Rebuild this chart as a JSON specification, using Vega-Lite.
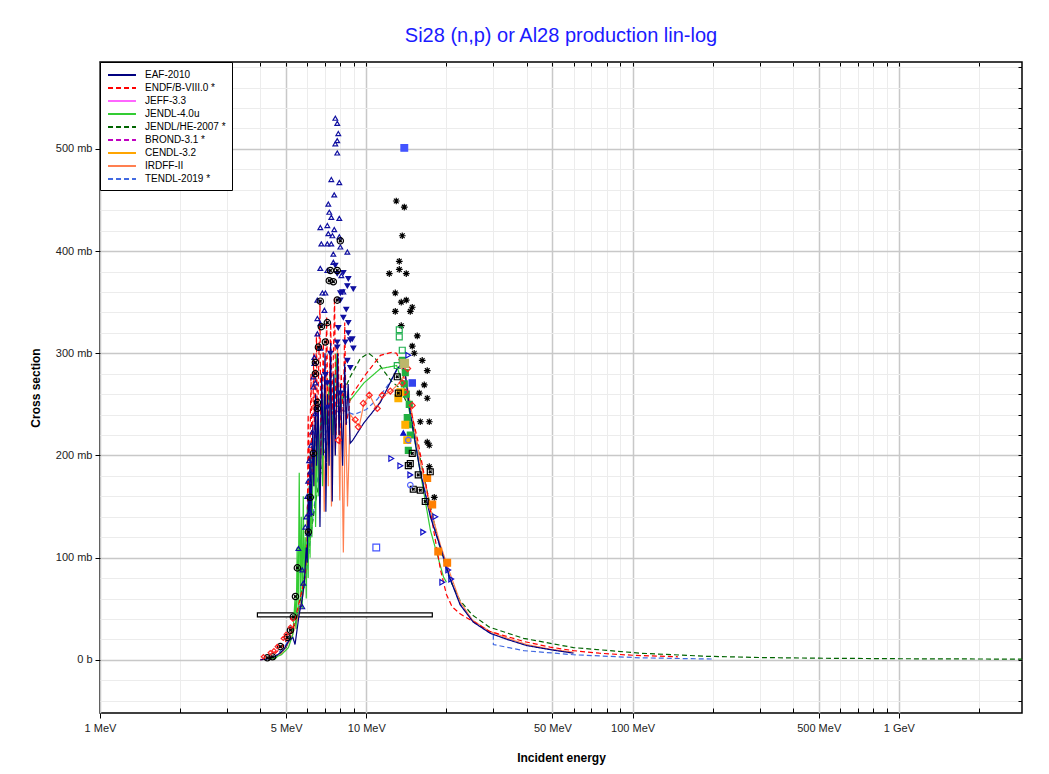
{
  "$schema": "https://vega.github.io/schema/vega-lite/v6.json",
  "width": 922,
  "height": 651,
  "autosize": {"type": "none"},
  "padding": {"left": 100, "top": 62, "right": 27, "bottom": 61},
  "background": "white",
  "title": {"text": "Si28 (n,p) or Al28 production lin-log", "fontSize": 20, "fontWeight": "normal", "color": "#1a1aff", "offset": 15, "anchor": "middle", "font": "Liberation Sans"},
  "config": {
    "font": "Liberation Sans",
    "view": {"stroke": "#000000", "strokeWidth": 1.5},
    "axis": {"labelFont": "Liberation Sans", "titleFont": "Liberation Sans", "tickColor": "#000000", "domain": false}
  },
  "resolve": {"axis": {"x": "independent", "y": "independent"}},
  "datasets": {
    "box": [{"e": 3.9, "e2": 17.7, "lo": 42, "hi": 46}],
    "curves": [
      {"lib": "TENDL-2019 *", "e": 4.5, "xs": 2}, {"lib": "TENDL-2019 *", "e": 5, "xs": 15}, {"lib": "TENDL-2019 *", "e": 5.5, "xs": 40}, {"lib": "TENDL-2019 *", "e": 6, "xs": 90}, {"lib": "TENDL-2019 *", "e": 6.5, "xs": 170}, {"lib": "TENDL-2019 *", "e": 7, "xs": 220}, {"lib": "TENDL-2019 *", "e": 7.5, "xs": 240}, {"lib": "TENDL-2019 *", "e": 8, "xs": 245}, {"lib": "TENDL-2019 *", "e": 9, "xs": 240}, {"lib": "TENDL-2019 *", "e": 10, "xs": 245}, {"lib": "TENDL-2019 *", "e": 11, "xs": 255}, {"lib": "TENDL-2019 *", "e": 12, "xs": 268}, {"lib": "TENDL-2019 *", "e": 13, "xs": 283}, {"lib": "TENDL-2019 *", "e": 13.6, "xs": 288}, {"lib": "TENDL-2019 *", "e": 14, "xs": 280}, {"lib": "TENDL-2019 *", "e": 14.6, "xs": 245}, {"lib": "TENDL-2019 *", "e": 15.9, "xs": 188}, {"lib": "TENDL-2019 *", "e": 17.4, "xs": 142}, {"lib": "TENDL-2019 *", "e": 19, "xs": 108}, {"lib": "TENDL-2019 *", "e": 20.6, "xs": 80}, {"lib": "TENDL-2019 *", "e": 22.5, "xs": 55}, {"lib": "TENDL-2019 *", "e": 25, "xs": 39}, {"lib": "TENDL-2019 *", "e": 29, "xs": 27}, {"lib": "TENDL-2019 *", "e": 30, "xs": 25}, {"lib": "TENDL-2019 *", "e": 30.01, "xs": 15}, {"lib": "TENDL-2019 *", "e": 39, "xs": 9}, {"lib": "TENDL-2019 *", "e": 60, "xs": 5}, {"lib": "TENDL-2019 *", "e": 107, "xs": 2}, {"lib": "TENDL-2019 *", "e": 200, "xs": 0.8},
      {"lib": "JENDL/HE-2007 *", "e": 4.5, "xs": 0}, {"lib": "JENDL/HE-2007 *", "e": 5, "xs": 12}, {"lib": "JENDL/HE-2007 *", "e": 5.5, "xs": 40}, {"lib": "JENDL/HE-2007 *", "e": 6, "xs": 100}, {"lib": "JENDL/HE-2007 *", "e": 6.5, "xs": 160}, {"lib": "JENDL/HE-2007 *", "e": 7, "xs": 205}, {"lib": "JENDL/HE-2007 *", "e": 7.5, "xs": 235}, {"lib": "JENDL/HE-2007 *", "e": 8, "xs": 255}, {"lib": "JENDL/HE-2007 *", "e": 8.7, "xs": 277}, {"lib": "JENDL/HE-2007 *", "e": 9.5, "xs": 295}, {"lib": "JENDL/HE-2007 *", "e": 10.2, "xs": 300}, {"lib": "JENDL/HE-2007 *", "e": 10.8, "xs": 295}, {"lib": "JENDL/HE-2007 *", "e": 11.6, "xs": 283}, {"lib": "JENDL/HE-2007 *", "e": 12.5, "xs": 272}, {"lib": "JENDL/HE-2007 *", "e": 13.5, "xs": 265}, {"lib": "JENDL/HE-2007 *", "e": 14.5, "xs": 245}, {"lib": "JENDL/HE-2007 *", "e": 15.5, "xs": 212}, {"lib": "JENDL/HE-2007 *", "e": 16.5, "xs": 178}, {"lib": "JENDL/HE-2007 *", "e": 17.5, "xs": 148}, {"lib": "JENDL/HE-2007 *", "e": 18.5, "xs": 120}, {"lib": "JENDL/HE-2007 *", "e": 19.5, "xs": 98}, {"lib": "JENDL/HE-2007 *", "e": 20.5, "xs": 80}, {"lib": "JENDL/HE-2007 *", "e": 22.5, "xs": 58}, {"lib": "JENDL/HE-2007 *", "e": 25, "xs": 44}, {"lib": "JENDL/HE-2007 *", "e": 29, "xs": 32}, {"lib": "JENDL/HE-2007 *", "e": 39, "xs": 21}, {"lib": "JENDL/HE-2007 *", "e": 60, "xs": 12}, {"lib": "JENDL/HE-2007 *", "e": 107, "xs": 6.5}, {"lib": "JENDL/HE-2007 *", "e": 190, "xs": 3.5}, {"lib": "JENDL/HE-2007 *", "e": 300, "xs": 2.3}, {"lib": "JENDL/HE-2007 *", "e": 500, "xs": 1.6}, {"lib": "JENDL/HE-2007 *", "e": 1000, "xs": 1.1}, {"lib": "JENDL/HE-2007 *", "e": 2900, "xs": 0.7},
      {"lib": "IRDFF-II", "e": 4.3, "xs": 0}, {"lib": "IRDFF-II", "e": 4.8, "xs": 6}, {"lib": "IRDFF-II", "e": 5.2, "xs": 20}, {"lib": "IRDFF-II", "e": 5.5, "xs": 38}, {"lib": "IRDFF-II", "e": 5.8, "xs": 65}, {"lib": "IRDFF-II", "e": 6.0, "xs": 110}, {"lib": "IRDFF-II", "e": 6.1, "xs": 160}, {"lib": "IRDFF-II", "e": 6.2, "xs": 130}, {"lib": "IRDFF-II", "e": 6.3, "xs": 210}, {"lib": "IRDFF-II", "e": 6.4, "xs": 170}, {"lib": "IRDFF-II", "e": 6.6, "xs": 250}, {"lib": "IRDFF-II", "e": 6.7, "xs": 160}, {"lib": "IRDFF-II", "e": 6.85, "xs": 260}, {"lib": "IRDFF-II", "e": 6.95, "xs": 145}, {"lib": "IRDFF-II", "e": 7.1, "xs": 280}, {"lib": "IRDFF-II", "e": 7.2, "xs": 170}, {"lib": "IRDFF-II", "e": 7.3, "xs": 300}, {"lib": "IRDFF-II", "e": 7.4, "xs": 150}, {"lib": "IRDFF-II", "e": 7.55, "xs": 270}, {"lib": "IRDFF-II", "e": 7.65, "xs": 200}, {"lib": "IRDFF-II", "e": 7.8, "xs": 310}, {"lib": "IRDFF-II", "e": 7.95, "xs": 156}, {"lib": "IRDFF-II", "e": 8.05, "xs": 260}, {"lib": "IRDFF-II", "e": 8.2, "xs": 105}, {"lib": "IRDFF-II", "e": 8.35, "xs": 250}, {"lib": "IRDFF-II", "e": 8.5, "xs": 150}, {"lib": "IRDFF-II", "e": 8.7, "xs": 240}, {"lib": "IRDFF-II", "e": 9.0, "xs": 235}, {"lib": "IRDFF-II", "e": 9.4, "xs": 228}, {"lib": "IRDFF-II", "e": 9.8, "xs": 251}, {"lib": "IRDFF-II", "e": 10.3, "xs": 259}, {"lib": "IRDFF-II", "e": 10.9, "xs": 246}, {"lib": "IRDFF-II", "e": 11.6, "xs": 259}, {"lib": "IRDFF-II", "e": 12.4, "xs": 263}, {"lib": "IRDFF-II", "e": 13.2, "xs": 270}, {"lib": "IRDFF-II", "e": 14, "xs": 280}, {"lib": "IRDFF-II", "e": 14.6, "xs": 252}, {"lib": "IRDFF-II", "e": 15.9, "xs": 195}, {"lib": "IRDFF-II", "e": 17.4, "xs": 148}, {"lib": "IRDFF-II", "e": 19, "xs": 112}, {"lib": "IRDFF-II", "e": 20.6, "xs": 85}, {"lib": "IRDFF-II", "e": 22.5, "xs": 57}, {"lib": "IRDFF-II", "e": 25, "xs": 39}, {"lib": "IRDFF-II", "e": 29, "xs": 28}, {"lib": "IRDFF-II", "e": 34, "xs": 21}, {"lib": "IRDFF-II", "e": 40, "xs": 15}, {"lib": "IRDFF-II", "e": 49, "xs": 10.5}, {"lib": "IRDFF-II", "e": 60, "xs": 7.5},
      {"lib": "JENDL-4.0u", "e": 4.3, "xs": 0}, {"lib": "JENDL-4.0u", "e": 4.8, "xs": 5}, {"lib": "JENDL-4.0u", "e": 5.1, "xs": 12}, {"lib": "JENDL-4.0u", "e": 5.3, "xs": 25}, {"lib": "JENDL-4.0u", "e": 5.4, "xs": 60}, {"lib": "JENDL-4.0u", "e": 5.45, "xs": 30}, {"lib": "JENDL-4.0u", "e": 5.5, "xs": 110}, {"lib": "JENDL-4.0u", "e": 5.55, "xs": 45}, {"lib": "JENDL-4.0u", "e": 5.6, "xs": 183}, {"lib": "JENDL-4.0u", "e": 5.65, "xs": 60}, {"lib": "JENDL-4.0u", "e": 5.7, "xs": 140}, {"lib": "JENDL-4.0u", "e": 5.75, "xs": 50}, {"lib": "JENDL-4.0u", "e": 5.8, "xs": 160}, {"lib": "JENDL-4.0u", "e": 5.85, "xs": 70}, {"lib": "JENDL-4.0u", "e": 5.9, "xs": 120}, {"lib": "JENDL-4.0u", "e": 5.95, "xs": 60}, {"lib": "JENDL-4.0u", "e": 6.0, "xs": 150}, {"lib": "JENDL-4.0u", "e": 6.05, "xs": 80}, {"lib": "JENDL-4.0u", "e": 6.1, "xs": 170}, {"lib": "JENDL-4.0u", "e": 6.15, "xs": 100}, {"lib": "JENDL-4.0u", "e": 6.2, "xs": 200}, {"lib": "JENDL-4.0u", "e": 6.25, "xs": 120}, {"lib": "JENDL-4.0u", "e": 6.3, "xs": 180}, {"lib": "JENDL-4.0u", "e": 6.4, "xs": 220}, {"lib": "JENDL-4.0u", "e": 6.45, "xs": 130}, {"lib": "JENDL-4.0u", "e": 6.55, "xs": 240}, {"lib": "JENDL-4.0u", "e": 6.6, "xs": 160}, {"lib": "JENDL-4.0u", "e": 6.7, "xs": 220}, {"lib": "JENDL-4.0u", "e": 6.8, "xs": 250}, {"lib": "JENDL-4.0u", "e": 6.85, "xs": 170}, {"lib": "JENDL-4.0u", "e": 6.95, "xs": 260}, {"lib": "JENDL-4.0u", "e": 7.1, "xs": 230}, {"lib": "JENDL-4.0u", "e": 7.3, "xs": 280}, {"lib": "JENDL-4.0u", "e": 7.5, "xs": 220}, {"lib": "JENDL-4.0u", "e": 7.7, "xs": 300}, {"lib": "JENDL-4.0u", "e": 7.9, "xs": 240}, {"lib": "JENDL-4.0u", "e": 8.2, "xs": 260}, {"lib": "JENDL-4.0u", "e": 8.7, "xs": 254}, {"lib": "JENDL-4.0u", "e": 9.8, "xs": 271}, {"lib": "JENDL-4.0u", "e": 11.3, "xs": 285}, {"lib": "JENDL-4.0u", "e": 13, "xs": 288}, {"lib": "JENDL-4.0u", "e": 14.2, "xs": 257}, {"lib": "JENDL-4.0u", "e": 15.6, "xs": 198}, {"lib": "JENDL-4.0u", "e": 17.4, "xs": 127}, {"lib": "JENDL-4.0u", "e": 19.5, "xs": 81}, {"lib": "JENDL-4.0u", "e": 20, "xs": 76},
      {"lib": "ENDF/B-VIII.0 *", "e": 4.0, "xs": 0}, {"lib": "ENDF/B-VIII.0 *", "e": 4.4, "xs": 3}, {"lib": "ENDF/B-VIII.0 *", "e": 4.8, "xs": 12}, {"lib": "ENDF/B-VIII.0 *", "e": 5.1, "xs": 22}, {"lib": "ENDF/B-VIII.0 *", "e": 5.3, "xs": 30}, {"lib": "ENDF/B-VIII.0 *", "e": 5.5, "xs": 48}, {"lib": "ENDF/B-VIII.0 *", "e": 5.7, "xs": 65}, {"lib": "ENDF/B-VIII.0 *", "e": 5.9, "xs": 82}, {"lib": "ENDF/B-VIII.0 *", "e": 6.0, "xs": 120}, {"lib": "ENDF/B-VIII.0 *", "e": 6.05, "xs": 240}, {"lib": "ENDF/B-VIII.0 *", "e": 6.1, "xs": 150}, {"lib": "ENDF/B-VIII.0 *", "e": 6.2, "xs": 280}, {"lib": "ENDF/B-VIII.0 *", "e": 6.25, "xs": 180}, {"lib": "ENDF/B-VIII.0 *", "e": 6.35, "xs": 300}, {"lib": "ENDF/B-VIII.0 *", "e": 6.4, "xs": 200}, {"lib": "ENDF/B-VIII.0 *", "e": 6.5, "xs": 320}, {"lib": "ENDF/B-VIII.0 *", "e": 6.55, "xs": 220}, {"lib": "ENDF/B-VIII.0 *", "e": 6.7, "xs": 350}, {"lib": "ENDF/B-VIII.0 *", "e": 6.75, "xs": 200}, {"lib": "ENDF/B-VIII.0 *", "e": 6.9, "xs": 310}, {"lib": "ENDF/B-VIII.0 *", "e": 7.0, "xs": 230}, {"lib": "ENDF/B-VIII.0 *", "e": 7.1, "xs": 335}, {"lib": "ENDF/B-VIII.0 *", "e": 7.2, "xs": 210}, {"lib": "ENDF/B-VIII.0 *", "e": 7.35, "xs": 330}, {"lib": "ENDF/B-VIII.0 *", "e": 7.45, "xs": 240}, {"lib": "ENDF/B-VIII.0 *", "e": 7.6, "xs": 355}, {"lib": "ENDF/B-VIII.0 *", "e": 7.7, "xs": 220}, {"lib": "ENDF/B-VIII.0 *", "e": 7.85, "xs": 300}, {"lib": "ENDF/B-VIII.0 *", "e": 7.95, "xs": 210}, {"lib": "ENDF/B-VIII.0 *", "e": 8.05, "xs": 280}, {"lib": "ENDF/B-VIII.0 *", "e": 8.2, "xs": 240}, {"lib": "ENDF/B-VIII.0 *", "e": 8.3, "xs": 330}, {"lib": "ENDF/B-VIII.0 *", "e": 8.4, "xs": 230}, {"lib": "ENDF/B-VIII.0 *", "e": 8.6, "xs": 245}, {"lib": "ENDF/B-VIII.0 *", "e": 8.7, "xs": 257}, {"lib": "ENDF/B-VIII.0 *", "e": 9.8, "xs": 277}, {"lib": "ENDF/B-VIII.0 *", "e": 11.3, "xs": 298}, {"lib": "ENDF/B-VIII.0 *", "e": 12.5, "xs": 301}, {"lib": "ENDF/B-VIII.0 *", "e": 13, "xs": 300}, {"lib": "ENDF/B-VIII.0 *", "e": 13.6, "xs": 287}, {"lib": "ENDF/B-VIII.0 *", "e": 14.2, "xs": 261}, {"lib": "ENDF/B-VIII.0 *", "e": 15.6, "xs": 215}, {"lib": "ENDF/B-VIII.0 *", "e": 16.9, "xs": 166}, {"lib": "ENDF/B-VIII.0 *", "e": 17.9, "xs": 127}, {"lib": "ENDF/B-VIII.0 *", "e": 19, "xs": 88}, {"lib": "ENDF/B-VIII.0 *", "e": 20, "xs": 64}, {"lib": "ENDF/B-VIII.0 *", "e": 21, "xs": 52}, {"lib": "ENDF/B-VIII.0 *", "e": 22.5, "xs": 45}, {"lib": "ENDF/B-VIII.0 *", "e": 25, "xs": 38}, {"lib": "ENDF/B-VIII.0 *", "e": 29, "xs": 28}, {"lib": "ENDF/B-VIII.0 *", "e": 39, "xs": 18}, {"lib": "ENDF/B-VIII.0 *", "e": 49, "xs": 12.5}, {"lib": "ENDF/B-VIII.0 *", "e": 60, "xs": 9}, {"lib": "ENDF/B-VIII.0 *", "e": 75, "xs": 6.5}, {"lib": "ENDF/B-VIII.0 *", "e": 100, "xs": 4.5}, {"lib": "ENDF/B-VIII.0 *", "e": 148, "xs": 3},
      {"lib": "EAF-2010", "e": 4.0, "xs": 0}, {"lib": "EAF-2010", "e": 4.3, "xs": 1}, {"lib": "EAF-2010", "e": 4.6, "xs": 4}, {"lib": "EAF-2010", "e": 4.9, "xs": 10}, {"lib": "EAF-2010", "e": 5.1, "xs": 18}, {"lib": "EAF-2010", "e": 5.3, "xs": 22}, {"lib": "EAF-2010", "e": 5.4, "xs": 15}, {"lib": "EAF-2010", "e": 5.5, "xs": 30}, {"lib": "EAF-2010", "e": 5.6, "xs": 45}, {"lib": "EAF-2010", "e": 5.75, "xs": 60}, {"lib": "EAF-2010", "e": 5.85, "xs": 75}, {"lib": "EAF-2010", "e": 5.95, "xs": 110}, {"lib": "EAF-2010", "e": 6.0, "xs": 95}, {"lib": "EAF-2010", "e": 6.05, "xs": 160}, {"lib": "EAF-2010", "e": 6.1, "xs": 120}, {"lib": "EAF-2010", "e": 6.15, "xs": 200}, {"lib": "EAF-2010", "e": 6.2, "xs": 140}, {"lib": "EAF-2010", "e": 6.3, "xs": 230}, {"lib": "EAF-2010", "e": 6.35, "xs": 170}, {"lib": "EAF-2010", "e": 6.45, "xs": 260}, {"lib": "EAF-2010", "e": 6.5, "xs": 190}, {"lib": "EAF-2010", "e": 6.6, "xs": 250}, {"lib": "EAF-2010", "e": 6.7, "xs": 130}, {"lib": "EAF-2010", "e": 6.8, "xs": 280}, {"lib": "EAF-2010", "e": 6.9, "xs": 200}, {"lib": "EAF-2010", "e": 7.0, "xs": 300}, {"lib": "EAF-2010", "e": 7.05, "xs": 145}, {"lib": "EAF-2010", "e": 7.15, "xs": 260}, {"lib": "EAF-2010", "e": 7.25, "xs": 190}, {"lib": "EAF-2010", "e": 7.35, "xs": 310}, {"lib": "EAF-2010", "e": 7.45, "xs": 155}, {"lib": "EAF-2010", "e": 7.55, "xs": 280}, {"lib": "EAF-2010", "e": 7.65, "xs": 200}, {"lib": "EAF-2010", "e": 7.8, "xs": 300}, {"lib": "EAF-2010", "e": 7.9, "xs": 220}, {"lib": "EAF-2010", "e": 8.0, "xs": 270}, {"lib": "EAF-2010", "e": 8.15, "xs": 190}, {"lib": "EAF-2010", "e": 8.3, "xs": 290}, {"lib": "EAF-2010", "e": 8.4, "xs": 230}, {"lib": "EAF-2010", "e": 8.55, "xs": 270}, {"lib": "EAF-2010", "e": 8.7, "xs": 212}, {"lib": "EAF-2010", "e": 8.9, "xs": 215}, {"lib": "EAF-2010", "e": 9.8, "xs": 232}, {"lib": "EAF-2010", "e": 11.3, "xs": 252}, {"lib": "EAF-2010", "e": 13, "xs": 284}, {"lib": "EAF-2010", "e": 13.6, "xs": 290}, {"lib": "EAF-2010", "e": 14, "xs": 280}, {"lib": "EAF-2010", "e": 14.6, "xs": 242}, {"lib": "EAF-2010", "e": 15.9, "xs": 186}, {"lib": "EAF-2010", "e": 17.4, "xs": 140}, {"lib": "EAF-2010", "e": 19, "xs": 110}, {"lib": "EAF-2010", "e": 20.6, "xs": 80}, {"lib": "EAF-2010", "e": 22.5, "xs": 54}, {"lib": "EAF-2010", "e": 25.2, "xs": 37}, {"lib": "EAF-2010", "e": 29.2, "xs": 26}, {"lib": "EAF-2010", "e": 33.8, "xs": 20}, {"lib": "EAF-2010", "e": 40, "xs": 14}, {"lib": "EAF-2010", "e": 49, "xs": 10}, {"lib": "EAF-2010", "e": 60, "xs": 6.5}
    ],
    "exp": [
      {"set": "tu", "e": 7.65, "xs": 530}, {"set": "tu", "e": 7.78, "xs": 525}, {"set": "tu", "e": 7.85, "xs": 515}, {"set": "tu", "e": 7.78, "xs": 508}, {"set": "tu", "e": 7.65, "xs": 505}, {"set": "tu", "e": 7.78, "xs": 496}, {"set": "tu", "e": 7.39, "xs": 470}, {"set": "tu", "e": 7.92, "xs": 467}, {"set": "tu", "e": 7.58, "xs": 455}, {"set": "tu", "e": 7.2, "xs": 446}, {"set": "tu", "e": 7.26, "xs": 438}, {"set": "tu", "e": 7.39, "xs": 433}, {"set": "tu", "e": 7.92, "xs": 432}, {"set": "tu", "e": 6.72, "xs": 423}, {"set": "tu", "e": 7.14, "xs": 425}, {"set": "tu", "e": 7.58, "xs": 421}, {"set": "tu", "e": 7.2, "xs": 417}, {"set": "tu", "e": 7.46, "xs": 415}, {"set": "tu", "e": 7.92, "xs": 414}, {"set": "tu", "e": 6.78, "xs": 407}, {"set": "tu", "e": 7.14, "xs": 407}, {"set": "tu", "e": 7.39, "xs": 407}, {"set": "tu", "e": 7.99, "xs": 404}, {"set": "tu", "e": 7.52, "xs": 397}, {"set": "tu", "e": 8.49, "xs": 399}, {"set": "tu", "e": 7.52, "xs": 389}, {"set": "tu", "e": 6.72, "xs": 383}, {"set": "tu", "e": 7.14, "xs": 381}, {"set": "tu", "e": 8.06, "xs": 376}, {"set": "tu", "e": 6.84, "xs": 359}, {"set": "tu", "e": 7.02, "xs": 359}, {"set": "tu", "e": 8.2, "xs": 360}, {"set": "tu", "e": 6.55, "xs": 352}, {"set": "tu", "e": 6.96, "xs": 342}, {"set": "tu", "e": 6.55, "xs": 334}, {"set": "tu", "e": 6.72, "xs": 329}, {"set": "tu", "e": 6.55, "xs": 319}, {"set": "tu", "e": 6.72, "xs": 305}, {"set": "tu", "e": 6.38, "xs": 296}, {"set": "tu", "e": 6.38, "xs": 290}, {"set": "tu", "e": 6.33, "xs": 277}, {"set": "tu", "e": 6.33, "xs": 267}, {"set": "tu", "e": 6.44, "xs": 271}, {"set": "tu", "e": 6.44, "xs": 241}, {"set": "tu", "e": 6.27, "xs": 223}, {"set": "tu", "e": 6.2, "xs": 210}, {"set": "tu", "e": 6.1, "xs": 195}, {"set": "tu", "e": 6.16, "xs": 184}, {"set": "tu", "e": 6.05, "xs": 175}, {"set": "tu", "e": 6.0, "xs": 160}, {"set": "tu", "e": 6.16, "xs": 144}, {"set": "tu", "e": 5.95, "xs": 140}, {"set": "tu", "e": 5.9, "xs": 130}, {"set": "tu", "e": 6.06, "xs": 124}, {"set": "tu", "e": 5.56, "xs": 109}, {"set": "tu", "e": 5.75, "xs": 88}, {"set": "tu", "e": 5.8, "xs": 75}, {"set": "tu", "e": 5.75, "xs": 52},
      {"set": "td", "e": 7.65, "xs": 386}, {"set": "td", "e": 7.78, "xs": 378}, {"set": "td", "e": 8.2, "xs": 379}, {"set": "td", "e": 8.94, "xs": 363}, {"set": "td", "e": 8.13, "xs": 360}, {"set": "td", "e": 7.99, "xs": 352}, {"set": "td", "e": 8.41, "xs": 343}, {"set": "td", "e": 8.2, "xs": 335}, {"set": "td", "e": 8.56, "xs": 330}, {"set": "td", "e": 7.85, "xs": 325}, {"set": "td", "e": 8.86, "xs": 314}, {"set": "td", "e": 8.34, "xs": 311}, {"set": "td", "e": 8.94, "xs": 305}, {"set": "td", "e": 7.78, "xs": 306}, {"set": "td", "e": 7.02, "xs": 279}, {"set": "td", "e": 7.33, "xs": 300}, {"set": "td", "e": 8.49, "xs": 293}, {"set": "td", "e": 8.71, "xs": 286}, {"set": "td", "e": 8.56, "xs": 373}, {"set": "td", "e": 8.49, "xs": 366}, {"set": "td", "e": 7.99, "xs": 359}, {"set": "td", "e": 8.56, "xs": 320}, {"set": "td", "e": 7.78, "xs": 311}, {"set": "td", "e": 8.71, "xs": 313}, {"set": "td", "e": 7.14, "xs": 271}, {"set": "td", "e": 7.99, "xs": 261}, {"set": "td", "e": 7.14, "xs": 247},
      {"set": "cx", "e": 7.99, "xs": 410}, {"set": "cx", "e": 7.33, "xs": 381}, {"set": "cx", "e": 7.78, "xs": 381}, {"set": "cx", "e": 7.26, "xs": 371}, {"set": "cx", "e": 7.52, "xs": 370}, {"set": "cx", "e": 6.72, "xs": 351}, {"set": "cx", "e": 7.78, "xs": 352}, {"set": "cx", "e": 7.14, "xs": 330}, {"set": "cx", "e": 6.78, "xs": 326}, {"set": "cx", "e": 7.02, "xs": 311}, {"set": "cx", "e": 6.61, "xs": 306}, {"set": "cx", "e": 6.44, "xs": 291}, {"set": "cx", "e": 6.44, "xs": 280}, {"set": "cx", "e": 6.55, "xs": 252}, {"set": "cx", "e": 6.55, "xs": 246}, {"set": "cx", "e": 6.33, "xs": 202}, {"set": "cx", "e": 6.16, "xs": 159}, {"set": "cx", "e": 6.06, "xs": 125}, {"set": "cx", "e": 5.51, "xs": 90}, {"set": "cx", "e": 5.42, "xs": 62}, {"set": "cx", "e": 5.32, "xs": 42}, {"set": "cx", "e": 5.19, "xs": 29}, {"set": "cx", "e": 5.05, "xs": 22}, {"set": "cx", "e": 4.76, "xs": 13}, {"set": "cx", "e": 4.44, "xs": 3}, {"set": "cx", "e": 4.25, "xs": 2},
      {"set": "as", "e": 12.96, "xs": 449}, {"set": "as", "e": 13.89, "xs": 443}, {"set": "as", "e": 13.65, "xs": 415}, {"set": "as", "e": 13.3, "xs": 390}, {"set": "as", "e": 12.2, "xs": 378}, {"set": "as", "e": 13.3, "xs": 382}, {"set": "as", "e": 14.13, "xs": 378}, {"set": "as", "e": 12.85, "xs": 359}, {"set": "as", "e": 13.53, "xs": 350}, {"set": "as", "e": 14.13, "xs": 352}, {"set": "as", "e": 12.85, "xs": 341}, {"set": "as", "e": 14.63, "xs": 341}, {"set": "as", "e": 14.88, "xs": 345}, {"set": "as", "e": 13.53, "xs": 327}, {"set": "as", "e": 15.54, "xs": 317}, {"set": "as", "e": 14.88, "xs": 307}, {"set": "as", "e": 15.14, "xs": 300}, {"set": "as", "e": 16.22, "xs": 293}, {"set": "as", "e": 16.94, "xs": 283}, {"set": "as", "e": 16.51, "xs": 269}, {"set": "as", "e": 15.81, "xs": 261}, {"set": "as", "e": 16.94, "xs": 256}, {"set": "as", "e": 15.95, "xs": 233}, {"set": "as", "e": 17.24, "xs": 233}, {"set": "as", "e": 16.94, "xs": 213}, {"set": "as", "e": 17.24, "xs": 210}, {"set": "as", "e": 17.24, "xs": 189}, {"set": "as", "e": 18.0, "xs": 159},
      {"set": "gs", "e": 13.3, "xs": 323}, {"set": "gs", "e": 13.3, "xs": 316}, {"set": "gs", "e": 13.65, "xs": 303}, {"set": "gs", "e": 13.07, "xs": 288},
      {"set": "gf", "e": 13.65, "xs": 293}, {"set": "gf", "e": 14.01, "xs": 281}, {"set": "gf", "e": 14.25, "xs": 237}, {"set": "gf", "e": 14.38, "xs": 230}, {"set": "gf", "e": 13.89, "xs": 270}, {"set": "gf", "e": 14.13, "xs": 260}, {"set": "gf", "e": 14.5, "xs": 250}, {"set": "gf", "e": 14.63, "xs": 220}, {"set": "gf", "e": 14.38, "xs": 205},
      {"set": "rd", "e": 9.74, "xs": 251}, {"set": "rd", "e": 10.26, "xs": 259}, {"set": "rd", "e": 11.0, "xs": 246}, {"set": "rd", "e": 11.48, "xs": 259}, {"set": "rd", "e": 12.31, "xs": 263}, {"set": "rd", "e": 9.33, "xs": 228}, {"set": "rd", "e": 9.09, "xs": 235}, {"set": "rd", "e": 7.85, "xs": 215}, {"set": "rd", "e": 13.65, "xs": 271}, {"set": "rd", "e": 14.01, "xs": 262}, {"set": "rd", "e": 14.88, "xs": 249}, {"set": "rd", "e": 14.3, "xs": 285},
      {"set": "rl", "e": 5.19, "xs": 32}, {"set": "rl", "e": 4.88, "xs": 21}, {"set": "rl", "e": 4.63, "xs": 13}, {"set": "rl", "e": 4.36, "xs": 7}, {"set": "rl", "e": 4.11, "xs": 3}, {"set": "rl", "e": 5.3, "xs": 40}, {"set": "rl", "e": 5.0, "xs": 25}, {"set": "rl", "e": 4.5, "xs": 9},
      {"set": "or", "e": 16.94, "xs": 178}, {"set": "or", "e": 17.69, "xs": 152}, {"set": "or", "e": 18.63, "xs": 106}, {"set": "or", "e": 20.13, "xs": 95},
      {"set": "yo", "e": 13.19, "xs": 256}, {"set": "yo", "e": 14.01, "xs": 230}, {"set": "yo", "e": 13.42, "xs": 262}, {"set": "yo", "e": 14.25, "xs": 215},
      {"set": "bt", "e": 12.41, "xs": 197}, {"set": "bt", "e": 13.42, "xs": 190}, {"set": "bt", "e": 14.63, "xs": 181}, {"set": "bt", "e": 18.16, "xs": 140}, {"set": "bt", "e": 16.36, "xs": 125}, {"set": "bt", "e": 20.31, "xs": 88}, {"set": "bt", "e": 20.84, "xs": 79}, {"set": "bt", "e": 19.29, "xs": 76}, {"set": "bt", "e": 14.38, "xs": 298},
      {"set": "sx", "e": 13.07, "xs": 277}, {"set": "sx", "e": 13.19, "xs": 261}, {"set": "sx", "e": 14.88, "xs": 202}, {"set": "sx", "e": 14.63, "xs": 192}, {"set": "sx", "e": 14.38, "xs": 190}, {"set": "sx", "e": 15.67, "xs": 181}, {"set": "sx", "e": 15.01, "xs": 167}, {"set": "sx", "e": 15.95, "xs": 166}, {"set": "sx", "e": 16.65, "xs": 155}, {"set": "sx", "e": 17.39, "xs": 184},
      {"set": "bb", "e": 13.89, "xs": 501},
      {"set": "bq", "e": 10.9, "xs": 110},
      {"set": "bs", "e": 14.88, "xs": 271},
      {"set": "bf", "e": 13.77, "xs": 222},
      {"set": "bc", "e": 14.38, "xs": 215}, {"set": "bc", "e": 14.63, "xs": 171},
      {"set": "kh", "e": 13.89, "xs": 290}
    ]
  },
  "layer": [
    {
      "data": {"name": "box"},
      "mark": {"type": "rect", "fill": "white", "stroke": "#000000", "strokeWidth": 1.2},
      "encoding": {
        "x": {"field": "e", "type": "quantitative", "scale": {"type": "log", "domain": [1, 2900], "nice": false},
          "axis": {
            "orient": "bottom",
            "values": [1, 2, 3, 4, 5, 6, 7, 8, 9, 10, 20, 30, 40, 50, 60, 70, 80, 90, 100, 200, 300, 400, 500, 600, 700, 800, 900, 1000, 2000],
            "labelExpr": "datum.value==1?'1 MeV':datum.value==5?'5 MeV':datum.value==10?'10 MeV':datum.value==50?'50 MeV':datum.value==100?'100 MeV':datum.value==500?'500 MeV':datum.value==1000?'1 GeV':''",
            "grid": true,
            "gridColor": {"condition": {"test": "indexof([1,5,10,50,100,500,1000], datum.value) >= 0", "value": "#c8c8c8"}, "value": "#ececec"},
            "gridWidth": {"condition": {"test": "indexof([1,5,10,50,100,500,1000], datum.value) >= 0", "value": 1.5}, "value": 1},
            "tickSize": {"condition": {"test": "indexof([1,5,10,50,100,500,1000], datum.value) >= 0", "value": 5}, "value": -5},
            "labelFontSize": 11, "labelColor": "#222222", "labelPadding": 4, "labelFlush": false, "labelOverlap": false,
            "title": "Incident energy", "titleFontSize": 12, "titleFontWeight": "bold", "titleColor": "#000000", "titlePadding": 19
          }},
        "x2": {"field": "e2"},
        "y": {"field": "lo", "type": "quantitative", "scale": {"domain": [-52, 585], "nice": false, "zero": false},
          "axis": {
            "orient": "left",
            "values": [-40, -20, 0, 20, 40, 60, 80, 100, 120, 140, 160, 180, 200, 220, 240, 260, 280, 300, 320, 340, 360, 380, 400, 420, 440, 460, 480, 500, 520, 540, 560, 580],
            "labelExpr": "datum.value==0?'0 b':(datum.value>0 && datum.value%100==0)?datum.value+' mb':''",
            "grid": true,
            "gridColor": {"condition": {"test": "datum.value%100==0", "value": "#c8c8c8"}, "value": "#ececec"},
            "gridWidth": {"condition": {"test": "datum.value%100==0", "value": 1.5}, "value": 1},
            "tickSize": {"condition": {"test": "datum.value%100==0", "value": 5}, "value": 0},
            "labelFontSize": 11, "labelColor": "#222222", "labelPadding": 3, "labelOverlap": false,
            "title": "Cross section", "titleFontSize": 12, "titleFontWeight": "bold", "titleColor": "#000000", "titlePadding": 13
          }},
        "y2": {"field": "hi"}
      }
    },
    {
      "data": {"name": "curves"},
      "mark": {"type": "line", "strokeWidth": 1.2, "interpolate": "linear"},
      "encoding": {
        "x": {"field": "e", "type": "quantitative", "scale": {"type": "log", "domain": [1, 2900], "nice": false},
          "axis": {"orient": "top", "values": [1, 2, 3, 4, 5, 6, 7, 8, 9, 10, 20, 30, 40, 50, 60, 70, 80, 90, 100, 200, 300, 400, 500, 600, 700, 800, 900, 1000, 2000], "labels": false, "grid": false, "tickSize": -4, "title": null}},
        "y": {"field": "xs", "type": "quantitative", "scale": {"domain": [-52, 585], "nice": false, "zero": false},
          "axis": {"orient": "right", "values": [-40, -20, 0, 20, 40, 60, 80, 100, 120, 140, 160, 180, 200, 220, 240, 260, 280, 300, 320, 340, 360, 380, 400, 420, 440, 460, 480, 500, 520, 540, 560, 580], "labels": false, "grid": false, "tickSize": -4, "title": null}},
        "color": {"field": "lib", "type": "nominal",
          "scale": {"domain": ["EAF-2010", "ENDF/B-VIII.0 *", "JEFF-3.3", "JENDL-4.0u", "JENDL/HE-2007 *", "BROND-3.1 *", "CENDL-3.2", "IRDFF-II", "TENDL-2019 *"],
                    "range": ["#000080", "#ff0000", "#ff66ff", "#33cc33", "#006400", "#c000c0", "#ffa500", "#ff7f50", "#4169e1"]},
          "legend": {"title": null, "orient": "top-left", "offset": 0, "fillColor": "white", "strokeColor": "#000000", "padding": 6, "symbolType": "M-0.83,0H3.83", "symbolSize": 144, "symbolStrokeWidth": 2, "labelFontSize": 10, "labelColor": "#000000", "rowPadding": 1, "labelOffset": 25}},
        "strokeDash": {"field": "lib", "type": "nominal",
          "scale": {"domain": ["EAF-2010", "ENDF/B-VIII.0 *", "JEFF-3.3", "JENDL-4.0u", "JENDL/HE-2007 *", "BROND-3.1 *", "CENDL-3.2", "IRDFF-II", "TENDL-2019 *"],
                    "range": [[1, 0], [5, 3], [1, 0], [1, 0], [5, 3], [5, 3], [1, 0], [1, 0], [5, 3]]},
          "legend": {"title": null, "orient": "top-left", "offset": 0, "fillColor": "white", "strokeColor": "#000000", "padding": 6, "symbolType": "M-0.83,0H3.83", "symbolSize": 144, "symbolStrokeWidth": 2, "labelFontSize": 10, "labelColor": "#000000", "rowPadding": 1, "labelOffset": 25}}
      }
    },
    {
      "data": {"name": "exp"},
      "mark": {"type": "point", "filled": true, "strokeWidth": 1.2, "opacity": 1},
      "encoding": {
        "x": {"field": "e", "type": "quantitative", "scale": {"type": "log", "domain": [1, 2900], "nice": false}, "axis": null},
        "y": {"field": "xs", "type": "quantitative", "scale": {"domain": [-52, 585], "nice": false, "zero": false}, "axis": null},
        "shape": {"field": "set", "type": "nominal", "legend": null,
          "scale": {"domain": ["tu", "td", "cx", "as", "gs", "gf", "rd", "rl", "or", "yo", "bt", "sx", "bb", "bq", "bs", "bf", "bc", "kh"],
                    "range": ["triangle-up", "triangle-down", "circle", "M0,-1L0,1M-1,0L1,0M-0.7,-0.7L0.7,0.7M-0.7,0.7L0.7,-0.7", "square", "square", "diamond", "diamond", "square", "square", "triangle-right", "square", "square", "square", "square", "triangle-up", "circle", "square"]}},
        "stroke": {"field": "set", "type": "nominal", "legend": null,
          "scale": {"domain": ["tu", "td", "cx", "as", "gs", "gf", "rd", "rl", "or", "yo", "bt", "sx", "bb", "bq", "bs", "bf", "bc", "kh"],
                    "range": ["#1010a0", "#1010a0", "#000000", "#000000", "#20b050", "#20b040", "#ff2020", "#ff2020", "#ff7f00", "#ffb000", "#1010c8", "#000000", "#4455ff", "#4455ff", "#3344ee", "#1010c8", "#5566ff", "#bdb76b"]}},
        "fill": {"field": "set", "type": "nominal", "legend": null,
          "scale": {"domain": ["tu", "td", "cx", "as", "gs", "gf", "rd", "rl", "or", "yo", "bt", "sx", "bb", "bq", "bs", "bf", "bc", "kh"],
                    "range": ["transparent", "#1010a0", "transparent", "transparent", "transparent", "#20b040", "transparent", "transparent", "#ff7f00", "#ffb000", "transparent", "transparent", "#4455ff", "transparent", "#3344ee", "#1010c8", "transparent", "#bdb76b"]}},
        "size": {"field": "set", "type": "nominal", "legend": null,
          "scale": {"type": "ordinal", "domain": ["tu", "td", "cx", "as", "gs", "gf", "rd", "rl", "or", "yo", "bt", "sx", "bb", "bq", "bs", "bf", "bc", "kh"],
                    "range": [22, 22, 40, 45, 35, 35, 35, 18, 45, 45, 30, 35, 45, 45, 40, 25, 30, 70]}}
      }
    },
    {
      "data": {"name": "exp"},
      "transform": [{"filter": "datum.set == 'cx' || datum.set == 'sx'"}],
      "mark": {"type": "point", "shape": "cross", "angle": 45, "filled": true, "color": "#000000", "size": 14, "opacity": 1},
      "encoding": {
        "x": {"field": "e", "type": "quantitative", "scale": {"type": "log", "domain": [1, 2900], "nice": false}, "axis": null},
        "y": {"field": "xs", "type": "quantitative", "scale": {"domain": [-52, 585], "nice": false, "zero": false}, "axis": null}
      }
    }
  ]
}
